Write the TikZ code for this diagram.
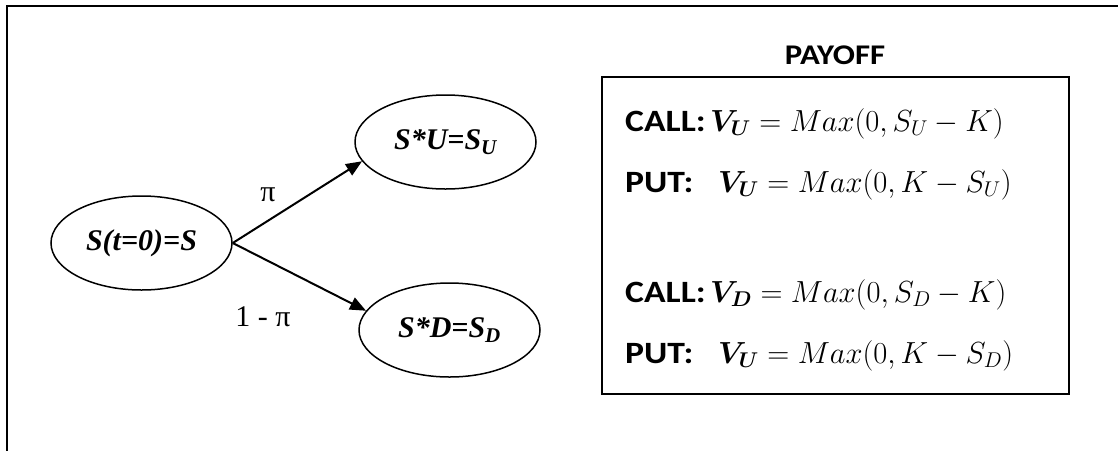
\RequirePackage{fix-cm}
\documentclass[tikz,border=0pt]{standalone}
\usepackage{amsmath,bm}
\usepackage{fontspec}
\setmainfont{Liberation Serif}
\newfontfamily\calibri[FakeStretch=1.15]{Carlito}
\usetikzlibrary{shapes.geometric,arrows.meta}
\tikzset{
  state/.style={ellipse, draw, line width=1.5pt, minimum width=181pt, minimum height=94pt, inner sep=0pt,
    font=\fontsize{30}{36}\selectfont\bfseries\itshape},
  arr/.style={line width=2pt, -{Triangle[length=16pt,width=13pt]}},
  lbl/.style={font=\fontsize{30}{36}\selectfont, inner sep=0pt},
  paylab/.style={anchor=base west, inner sep=0pt, font=\calibri\bfseries\fontsize{31}{36}\selectfont},
  paymath/.style={anchor=base west, inner sep=0pt, font=\fontsize{30.5}{36}\selectfont},
  frame/.style={line width=2pt}
}
\begin{document}
\begin{tikzpicture}[x=1pt,y=-1pt]
\useasboundingbox (0,0) rectangle (1118,451);
\coordinate (ftr) at (1118,6);
\coordinate (ftl) at (7,6);
\coordinate (fbl) at (7,451);
\draw[frame] (ftr) -- (ftl) -- (fbl);

\node[state] (s0) at (141.5,243) {S(t=0)=S};
\node[state] (su) at (445.5,142) {S*U=S\textsubscript{U}};
\node[state] (sd) at (449.5,330) {S*D=S\textsubscript{D}};

\draw[arr] (s0.east) -- (su.193);
\draw[arr] (s0.east) -- (sd.167);

\node[lbl] (pi) at (268,195) {π};
\node[lbl] (qpi) at (263,317) {1 - π};

\node[draw, line width=2pt, minimum width=467pt, minimum height=317pt, inner sep=0pt, anchor=north west] (box) at (601,76) {};
\node[font=\calibri\bfseries\fontsize{28.5}{34}\selectfont, inner sep=0pt] (title) at (835,55) {PAYOFF};

\node[paylab] (c1) at (625,131) {CALL:};
\node[paymath] (m1) at (710,131) {$\bm{V_U} = Max(0,S_U - K)$};
\node[paylab] (p1) at (625,192) {PUT:};
\node[paymath] (m2) at (718,192) {$\bm{V_U} = Max(0,K - S_U)$};
\node[paylab] (c2) at (625,302) {CALL:};
\node[paymath] (m3) at (710,302) {$\bm{V_D} = Max(0,S_D - K)$};
\node[paylab] (p2) at (625,363) {PUT:};
\node[paymath] (m4) at (718,363) {$\bm{V_U} = Max(0,K - S_D)$};
\end{tikzpicture}
\end{document}
